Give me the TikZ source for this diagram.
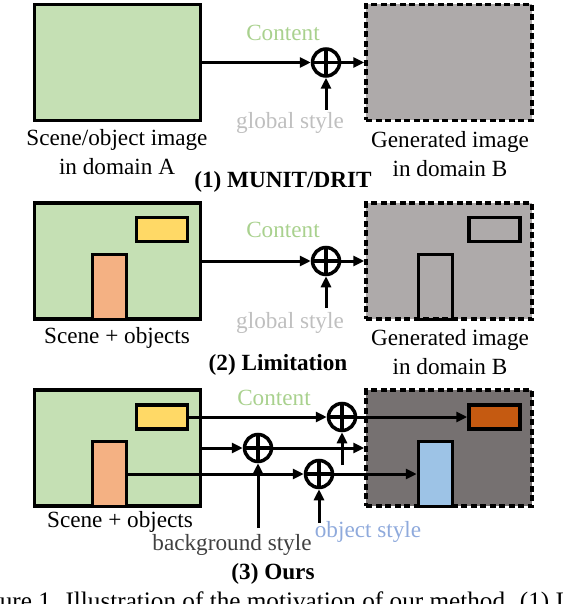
\documentclass[tikz,border=0pt]{standalone}
\usepackage{fontspec}
\setmainfont{Liberation Serif}
\usetikzlibrary{arrows.meta}
\definecolor{scenegreen}{HTML}{C5E0B4}
\definecolor{objyellow}{HTML}{FFD966}
\definecolor{objorange}{HTML}{F4B183}
\definecolor{genlight}{HTML}{AEAAAA}
\definecolor{gendark}{HTML}{767171}
\definecolor{objrust}{HTML}{C55A11}
\definecolor{objblue}{HTML}{9DC3E6}
\definecolor{contgreen}{HTML}{A9D18E}
\definecolor{stylegray}{HTML}{BFBFBF}
\definecolor{bggray}{HTML}{404040}
\definecolor{styleblue}{HTML}{8FAADC}
\tikzset{
  img/.style={draw,line width=3.5pt,inner sep=0pt,minimum width=166pt,minimum height=116pt},
  genimg/.style={img,dash pattern=on 6pt off 3.5pt},
  wide/.style={draw,line width=3.5pt,inner sep=0pt,minimum width=51pt,minimum height=24pt},
  tall/.style={draw,line width=3.5pt,inner sep=0pt,minimum width=34pt,minimum height=65pt},
  oplus/.style={circle,draw,line width=3.5pt,inner sep=0pt,minimum size=27pt,
    path picture={\draw[line width=3.5pt] (path picture bounding box.north) -- (path picture bounding box.south)
      (path picture bounding box.west) -- (path picture bounding box.east);}},
  flow/.style={line width=3pt,-{Triangle[length=11pt,width=10pt]}},
  lbl/.style={font=\fontsize{23.2}{29}\selectfont,inner sep=0pt,align=center}
}
\begin{document}
\begin{tikzpicture}[x=1pt,y=-1pt]
\clip (0,0) rectangle (570,604);
% (1) MUNIT/DRIT
\node[img,fill=scenegreen] (sceneA) at (117.5,62.5) {};
\node[genimg,fill=genlight] (genA) at (449,62.5) {};
\node[oplus] (plusA) at (326,62.5) {};
\coordinate (gsA) at (326,110);
\draw[flow] (sceneA.east) -- (plusA.west);
\draw[flow] (plusA.east) -- (genA.west);
\draw[flow] (gsA) -- (plusA.south);
\node[lbl,text=contgreen] (contA) at (283,33) {Content};
\node[lbl,text=stylegray] (styleA) at (290,123) {global style};
\node[lbl] (capSceneA) at (117,152) {Scene/object image\\in domain A};
\node[lbl] (capGenA) at (450,154) {Generated image\\in domain B};
\node[lbl,font=\fontsize{23.2}{29}\selectfont\bfseries] (titleA) at (283,182) {(1) MUNIT/DRIT};
% (2) Limitation
\node[img,fill=scenegreen] (sceneB) at (117.5,261) {};
\node[wide,fill=objyellow] (yelB) at (162,229.5) {};
\node[tall,fill=objorange] (oraB) at (109.5,287) {};
\node[genimg,fill=genlight] (genB) at (449,261) {};
\node[wide] (wideB) at (494.5,229.5) {};
\node[tall] (tallB) at (435.5,287) {};
\node[oplus] (plusB) at (326,261) {};
\coordinate (gsB) at (326,308);
\draw[flow] (sceneB.east) -- (plusB.west);
\draw[flow] (plusB.east) -- (genB.west);
\draw[flow] (gsB) -- (plusB.south);
\node[lbl,text=contgreen] (contB) at (283,230) {Content};
\node[lbl,text=stylegray] (styleB) at (290,323) {global style};
\node[lbl] (capSceneB) at (117,338) {Scene + objects};
\node[lbl] (capGenB) at (450,352.5) {Generated image\\in domain B};
\node[lbl,font=\fontsize{23.2}{29}\selectfont\bfseries] (titleB) at (278,365) {(2) Limitation};
% (3) Ours
\node[img,fill=scenegreen] (sceneC) at (117.5,448) {};
\node[wide,fill=objyellow] (yelC) at (162,417) {};
\node[tall,fill=objorange] (oraC) at (109.5,474) {};
\node[genimg,fill=gendark] (genC) at (449,448) {};
\node[wide,fill=objrust] (rustC) at (494.5,417) {};
\node[tall,fill=objblue] (blueC) at (435.5,474) {};
\node[oplus] (plusTop) at (342,417) {};
\node[oplus] (plusMid) at (258,448) {};
\node[oplus] (plusBot) at (319,474) {};
\coordinate (gsTop) at (342,465);
\coordinate (bgMid) at (258,528);
\coordinate (osBot) at (319,523);
\draw[flow] (yelC.east) -- (plusTop.west);
\draw[flow] (plusTop.east) -- (rustC.west);
\draw[flow] (sceneC.east) -- (plusMid.west);
\draw[flow] (plusMid.east) -- (genC.west);
\draw[flow] (oraC.east) -- (plusBot.west);
\draw[flow] (plusBot.east) -- (blueC.west);
\draw[flow] (gsTop) -- (plusTop.south);
\draw[flow] (bgMid) -- (plusMid.south);
\draw[flow] (osBot) -- (plusBot.south);
\node[lbl,text=contgreen] (contC) at (274,398) {Content};
\node[lbl] (capSceneC) at (120,522) {Scene + objects};
\node[lbl,text=bggray] (styleBg) at (232,545) {background style};
\node[lbl,text=styleblue] (styleObj) at (368,532) {object style};
\node[lbl,font=\fontsize{23.2}{29}\selectfont\bfseries] (titleC) at (273,574) {(3) Ours};
\node[lbl,font=\fontsize{25.2}{30}\selectfont,anchor=base west] (figcap) at (-34,609) {Figure 1. Illustration of the motivation of our method. (1) I};
\end{tikzpicture}
\end{document}
